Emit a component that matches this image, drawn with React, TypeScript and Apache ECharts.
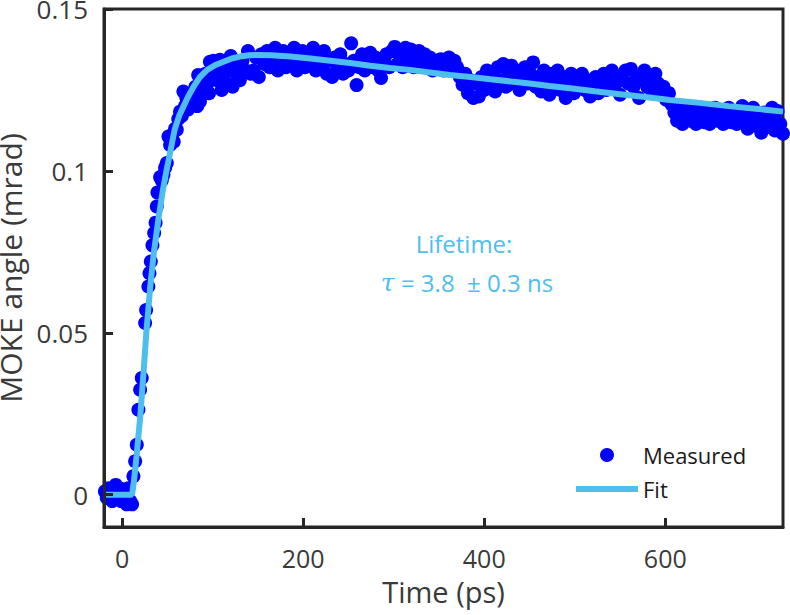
import React, { useEffect, useRef } from "react";
import * as echarts from "echarts";

const xTicks = [0, 200, 400, 600];
const yTicks = [0, 0.05, 0.1, 0.15];

const measured: [number, number][] = [
  [-19, 0.001], [-17, -0.001], [-15, 0.002], [-13, 0.0], [-11, -0.002], [-9, 0.001],
  [-7, 0.003], [-5, -0.001], [-3, 0.002], [-1, -0.002], [1, 0.0], [3, 0.001],
  [5, -0.003], [7, 0.002], [9, -0.002], [11, -0.003],
  [12.5, 0.0057], [14.4, 0.0103], [16.2, 0.0154], [18, 0.0262], [19.9, 0.0324], [21.7, 0.036],
  [25.4, 0.053], [26.5, 0.057], [29, 0.0643], [30.2, 0.0684], [31.7, 0.072], [33.5, 0.077],
  [35.4, 0.0808], [37, 0.084], [38.3, 0.089], [39, 0.0933], [42, 0.098], [43.8, 0.097],
  [45.6, 0.0988], [47.5, 0.101], [49.4, 0.1024], [51.2, 0.1106], [53, 0.108], [55, 0.111],
  [57, 0.109], [58.5, 0.113], [60.4, 0.1127], [62, 0.116], [64, 0.1183], [66, 0.117],
  [67.7, 0.1245], [69.5, 0.12], [71, 0.1225], [73, 0.119], [75, 0.1214], [77, 0.124],
  [79, 0.122], [81, 0.126], [83, 0.12], [84, 0.1296], [86, 0.1214], [88, 0.127],
  [90, 0.125], [92, 0.13], [94, 0.127], [96, 0.124], [97, 0.1337], [99, 0.129],
  [101, 0.134], [103, 0.131], [104.6, 0.128], [106, 0.132], [108, 0.1343], [110, 0.125],
  [112, 0.13], [114, 0.133], [116, 0.127], [118, 0.131], [120, 0.1355], [122, 0.126],
  [123, 0.131], [125, 0.134], [127, 0.128],
  [130, 0.128], [133, 0.134], [136, 0.131], [139, 0.137], [142, 0.13], [145, 0.131],
  [148, 0.135], [151, 0.129], [154, 0.136], [157, 0.133], [160, 0.137], [163, 0.132],
  [166, 0.135], [169, 0.138], [172, 0.131], [175, 0.134], [178, 0.137], [181, 0.132],
  [184, 0.136], [187, 0.133], [190, 0.138], [193, 0.131], [196, 0.135], [199, 0.137],
  [202, 0.132], [205, 0.136], [208, 0.134], [211, 0.138], [214, 0.131], [217, 0.135],
  [220, 0.133], [223, 0.137], [226, 0.13], [229, 0.134], [232, 0.129], [235, 0.135],
  [238, 0.132], [241, 0.136], [244, 0.13], [247, 0.133], [250, 0.131], [253, 0.1394],
  [256, 0.134], [259, 0.1265], [262, 0.132], [265, 0.136], [268, 0.131], [271, 0.134],
  [274, 0.1365], [277, 0.132], [280, 0.135], [283, 0.131], [286, 0.1287], [289, 0.134],
  [292, 0.136], [295, 0.132], [298, 0.137], [301, 0.1383], [304, 0.133], [307, 0.136],
  [310, 0.132], [313, 0.138], [316, 0.134], [319, 0.1375], [322, 0.132], [325, 0.135],
  [328, 0.137], [331, 0.133], [334, 0.136], [337, 0.132], [340, 0.135], [343, 0.131],
  [346, 0.134], [349, 0.132], [352, 0.1345], [355, 0.131], [358, 0.133], [361, 0.135],
  [364, 0.131], [367, 0.134], [370, 0.132], [373, 0.129], [376, 0.1266], [379, 0.13],
  [382, 0.124], [385, 0.128], [388, 0.1225], [391, 0.127], [394, 0.123], [397, 0.129],
  [400, 0.125], [403, 0.131], [406, 0.127], [409, 0.13], [412, 0.1245], [415, 0.132],
  [418, 0.128], [421, 0.133], [424, 0.126], [427, 0.13], [430, 0.1325], [433, 0.127],
  [436, 0.131], [439, 0.125], [442, 0.129], [445, 0.132], [448, 0.127], [451, 0.13],
  [454, 0.1335], [457, 0.126], [460, 0.129], [463, 0.1245], [466, 0.131], [469, 0.128],
  [472, 0.1235], [475, 0.13], [478, 0.127], [481, 0.131], [484, 0.125], [487, 0.129],
  [490, 0.1225], [493, 0.127], [496, 0.13], [499, 0.124], [502, 0.128], [505, 0.1265],
  [508, 0.13], [511, 0.125], [514, 0.128], [517, 0.123], [520, 0.127], [523, 0.129],
  [526, 0.124], [529, 0.127], [532, 0.13], [535, 0.125], [538, 0.128], [541, 0.131],
  [544, 0.126], [547, 0.129], [550, 0.1235], [553, 0.128], [556, 0.131], [559, 0.127],
  [562, 0.1315], [565, 0.126], [568, 0.129], [571, 0.1225], [574, 0.128], [577, 0.131],
  [580, 0.126], [583, 0.129], [586, 0.124], [589, 0.13], [592, 0.127], [595, 0.1245],
  [598, 0.126], [601, 0.122], [604, 0.124], [607, 0.1205], [610, 0.118], [613, 0.1155],
  [616, 0.119], [619, 0.1145], [622, 0.117], [625, 0.12], [628, 0.1155], [631, 0.118],
  [634, 0.1145], [637, 0.117], [640, 0.1195], [643, 0.115], [646, 0.118], [649, 0.1145],
  [652, 0.117], [655, 0.1195], [658, 0.1155], [661, 0.118], [664, 0.1145], [667, 0.1165],
  [670, 0.1195], [673, 0.115], [676, 0.117], [679, 0.1145], [682, 0.118], [685, 0.12],
  [688, 0.1155], [691, 0.113], [694, 0.117], [697, 0.1195], [700, 0.114], [703, 0.116],
  [706, 0.1118], [709, 0.118], [712, 0.1135], [715, 0.116], [718, 0.1195], [721, 0.1125],
  [724, 0.1185], [727, 0.1145], [730, 0.1115],
];

const fit: [number, number][] = [
  [-20, 0], [11, 0], [13, 0.004], [16, 0.012], [20, 0.024], [24, 0.039], [27, 0.051],
  [31, 0.064], [35, 0.0746], [40, 0.0849], [45, 0.094], [49, 0.1], [54, 0.107],
  [58, 0.1127], [63, 0.117], [68, 0.12], [73, 0.123], [79, 0.126], [86, 0.129],
  [94, 0.1312], [103, 0.1327], [112, 0.1337], [121, 0.1347], [130, 0.1353], [140, 0.1357],
  [150, 0.1358], [165, 0.1357], [186, 0.1353], [208, 0.1347], [230, 0.134], [252, 0.1333],
  [274, 0.1325], [296, 0.1318], [318, 0.1312], [340, 0.1304], [362, 0.1296], [385, 0.129],
  [407, 0.1283], [430, 0.1276], [450, 0.127], [472, 0.1262], [495, 0.1255], [522, 0.1246],
  [550, 0.1237], [578, 0.1228], [605, 0.1219], [638, 0.121], [670, 0.12], [700, 0.1192],
  [730, 0.1183],
];

const FONT = "'Open Sans', 'Noto Sans', sans-serif";
const AXIS = "#262626";
const LABEL = "#3a3a3a";
const FIT_COLOR = "#4DBEEE";

export default function App() {
  const ref = useRef<HTMLDivElement>(null);
  useEffect(() => {
    if (!ref.current) return;
    const chart = echarts.init(ref.current, undefined, { renderer: "svg" });
    chart.setOption({
      animation: false,
      grid: {
        left: 104,
        right: 7,
        top: 9,
        bottom: 88,
        containLabel: false,
        outerBoundsMode: "none",
        show: true,
        borderColor: AXIS,
        borderWidth: 3,
      },
      xAxis: {
        type: "value",
        min: -20,
        max: 730,
        z: 10,
        name: "Time (ps)",
        nameLocation: "middle",
        nameGap: 50,
        nameTextStyle: { fontFamily: FONT, fontSize: 29, color: LABEL },
        axisLine: { show: true, onZero: false, lineStyle: { color: AXIS, width: 3 } },
        splitLine: { show: false },
        axisTick: {
          show: true,
          inside: true,
          length: 9,
          customValues: xTicks,
          lineStyle: { color: AXIS, width: 3 },
        },
        axisLabel: {
          customValues: xTicks,
          margin: 18,
          fontFamily: FONT,
          fontSize: 25,
          color: LABEL,
        },
      },
      yAxis: {
        type: "value",
        min: -0.01,
        max: 0.15,
        z: 10,
        name: "MOKE angle (mrad)",
        nameLocation: "middle",
        nameGap: 70,
        nameTextStyle: { fontFamily: FONT, fontSize: 30, color: LABEL },
        axisLine: { show: true, onZero: false, lineStyle: { color: AXIS, width: 3 } },
        splitLine: { show: false },
        axisTick: {
          show: true,
          inside: true,
          length: 9,
          customValues: yTicks,
          lineStyle: { color: AXIS, width: 3 },
        },
        axisLabel: {
          customValues: yTicks,
          margin: 16,
          fontFamily: FONT,
          fontSize: 26,
          color: LABEL,
          formatter: (v: number) => String(v),
        },
      },
      legend: {
        orient: "vertical",
        left: 576,
        top: 444,
        itemWidth: 62,
        itemHeight: 14,
        itemGap: 12,
        padding: 0,
        textStyle: { fontFamily: FONT, fontSize: 22, color: "#1a1a1a", lineHeight: 22 },
        data: [
          { name: "Measured", icon: "circle" },
          { name: "Fit", icon: "path://M0,0 L62,0 L62,6 L0,6 Z" },
        ],
      },
      graphic: [
        {
          type: "text",
          x: 464,
          y: 243,
          style: {
            text: "Lifetime:",
            fill: FIT_COLOR,
            fontFamily: FONT,
            fontSize: 24,
            align: "center",
            verticalAlign: "middle",
          },
        },
        {
          type: "text",
          x: 467,
          y: 282,
          style: {
            text: "{t|τ}{n| = 3.8  ± 0.3 ns}",
            fill: FIT_COLOR,
            align: "center",
            verticalAlign: "middle",
            rich: {
              t: {
                fontFamily: "'DejaVu Serif', serif",
                fontStyle: "italic",
                fontSize: 25,
                fill: FIT_COLOR,
              },
              n: { fontFamily: FONT, fontSize: 24, fill: FIT_COLOR },
            },
          },
        },
      ],
      series: [
        {
          name: "Measured",
          type: "scatter",
          data: measured,
          symbol: "circle",
          symbolSize: 14,
          itemStyle: { color: "#0000FF", opacity: 1 },
        },
        {
          name: "Fit",
          type: "line",
          data: fit,
          symbol: "none",
          showSymbol: false,
          lineStyle: { color: FIT_COLOR, width: 6 },
          itemStyle: { color: FIT_COLOR },
          z: 3,
        },
      ],
    });
    return () => chart.dispose();
  }, []);
  return (
    <div
      ref={ref}
      style={{ position: "fixed", left: 0, top: 0, width: 790, height: 615, background: "#fff" }}
    />
  );
}
